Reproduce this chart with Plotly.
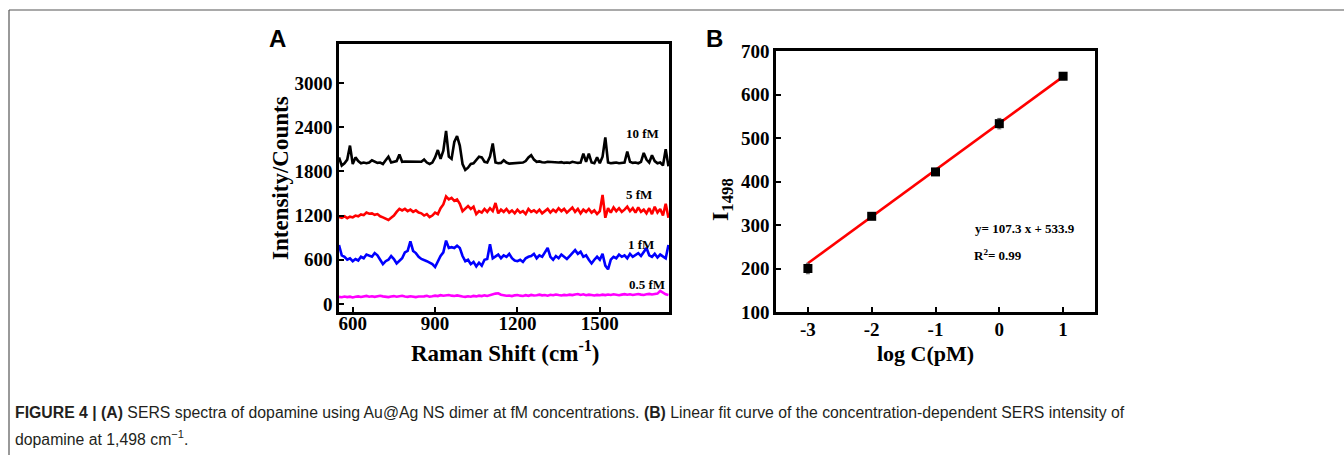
import plotly.graph_objects as go

W, H = 1344, 455

# ---------------- Panel A data ----------------
raman_shift = list(range(550, 1751, 10))

i_10fM = [1990, 1880, 1910, 1960, 2150, 1900, 1990, 1940, 1910, 1920,
          1910, 1920, 1950, 1930, 1915, 1920, 1900, 1950, 2000, 1920,
          1930, 1940, 2030, 1930, 1935, 1935, 1940, 1940, 1930, 1935,
          1930, 1960, 1920, 1900, 1920, 1990, 2090, 1970, 2080, 2350,
          2000, 1970, 2200, 2280, 2150, 1900, 1820, 1850, 1900, 1910,
          1960, 2000, 1990, 1930, 1920, 2000, 2180, 1920, 1910, 1915,
          1950, 1920, 1905, 1910, 1915, 1910, 1915, 1920, 1940, 1990,
          2020, 1960, 1930, 1935, 1925, 1920, 1930, 1925, 1920, 1915,
          1920, 1925, 1915, 1920, 1915, 1930, 1920, 1915, 1920, 2040,
          1930, 2040, 1920, 1910, 1990, 1910, 2000, 2260, 1920, 1910,
          1915, 1920, 1910, 1915, 1920, 2070, 1930, 1915, 1920, 1910,
          1930, 2050, 1960, 1920, 2020, 1940, 1910, 1920, 1880, 2100,
          1870]

i_5fM = [1180, 1170, 1190, 1165, 1185, 1175, 1200, 1190, 1215, 1205,
         1240, 1225, 1230, 1210, 1220, 1190, 1175, 1160, 1140, 1170,
         1200, 1250, 1290, 1270, 1290, 1260, 1280, 1250, 1270, 1240,
         1230, 1200, 1220, 1180, 1200, 1240, 1220, 1300, 1350, 1460,
         1420, 1440, 1400, 1420, 1360, 1260, 1300, 1330, 1290, 1320,
         1220, 1260, 1240, 1290, 1250, 1300, 1260, 1370, 1230, 1280,
         1250, 1290, 1240, 1270, 1230, 1280, 1240, 1260, 1220, 1290,
         1250, 1270, 1240, 1280, 1230, 1260, 1290, 1240, 1280, 1250,
         1300, 1260, 1290, 1240, 1270, 1310, 1250, 1290, 1230, 1280,
         1250, 1290, 1240, 1270, 1220, 1260, 1480, 1170, 1300, 1240,
         1310, 1260, 1300, 1250, 1280, 1320, 1260, 1300, 1240, 1310,
         1250, 1280, 1230, 1300, 1220, 1320, 1240, 1290, 1200, 1360,
         1170]

i_1fM = [800, 660, 640, 600, 620, 580, 610, 590, 640, 620,
         670, 650, 640, 690, 660, 600, 540, 580, 600, 650,
         610, 550, 590, 620, 700, 720, 850, 720, 690, 640,
         610, 600, 580, 560, 540, 500, 580, 650, 700, 860,
         760, 770, 760, 790, 760, 650, 580, 600, 540, 570,
         510, 560, 520, 600, 610, 810, 620, 640, 670, 620,
         660, 640, 680, 620, 590, 580, 600, 570, 620, 640,
         650, 680, 620, 660, 640, 700, 760, 640, 600, 650,
         620, 670, 640, 610, 650, 690, 730, 680, 710, 640,
         660, 600, 550, 600, 640, 600, 680, 520, 470, 600,
         640, 620, 670, 640, 660, 620, 680, 640, 660, 690,
         650, 700, 760, 660, 640, 680, 630, 670, 650, 620,
         800]

i_05fM = [95, 90, 100, 92, 98, 88, 96, 102, 94, 100,
          108, 98, 104, 96, 100, 110, 102, 96, 92, 100,
          106, 98, 104, 110, 100, 96, 104, 98, 92, 100,
          96, 102, 110, 98, 104, 112, 106, 118, 110, 114,
          120, 112, 108, 116, 104, 100, 96, 104, 98, 108,
          102, 112, 106, 116, 108, 120, 130, 140, 145, 125,
          118, 110, 114, 106, 116, 120, 112, 108, 118, 110,
          122, 114, 118, 126, 116, 120, 112, 124, 118, 128,
          120, 114, 122, 118, 126, 120, 128, 134, 122, 130,
          118, 126, 120, 114, 122, 118, 126, 120, 128, 122,
          130, 124, 118, 126, 132, 124, 130, 122, 128, 134,
          126, 122, 130, 136, 128, 134, 140, 178, 150, 130,
          120]

series_names = ["10 fM", "5 fM", "1 fM", "0.5 fM"]
series_colors = ["#000000", "#ff0000", "#0000ff", "#ff00ff"]
series_values = [i_10fM, i_5fM, i_1fM, i_05fM]
label_x = [1654, 1643, 1650, 1672]
label_y = [2321, 1480, 801, 258]

a_xticks = [600, 900, 1200, 1500]
a_yticks = [0, 600, 1200, 1800, 2400, 3000]

# ---------------- Panel B data ----------------
log_c = [-3, -2, -1, 0, 1]
i_1498 = [200, 320, 422, 533, 642]
i_1498_err = [12, 4, 8, 12, 8]
fit_slope = 107.3
fit_intercept = 533.9
fit_x = [-3, 1]
b_xticks = [-3, -2, -1, 0, 1]
b_xticktext = ["-3", "-2", "-1", "0", "1"]
b_yticks = [100, 200, 300, 400, 500, 600, 700]

# ---------------- Figure ----------------
fig = go.Figure()

for name, col, vals in zip(series_names, series_colors, series_values):
    fig.add_trace(go.Scatter(x=raman_shift, y=vals, mode="lines", name=name,
                             line=dict(color=col, width=2.6),
                             xaxis="x", yaxis="y", showlegend=False))

fig.add_trace(go.Scatter(x=fit_x, y=[fit_slope * v + fit_intercept for v in fit_x],
                         mode="lines", line=dict(color="#ff0000", width=2.6),
                         xaxis="x2", yaxis="y2", showlegend=False))
fig.add_trace(go.Scatter(x=log_c, y=i_1498, mode="markers",
                         marker=dict(symbol="square", size=9, color="#000000"),
                         error_y=dict(type="data", array=i_1498_err, color="#555555",
                                      thickness=1, width=2),
                         xaxis="x2", yaxis="y2", showlegend=False))

serif = "Liberation Serif, Times New Roman, serif"
sans = "Liberation Sans, Arial, sans-serif"
tickfont = dict(family=serif, size=19, color="#000000", weight="bold")

axis_common = dict(showline=True, linecolor="#000000", linewidth=2.5, mirror=True,
                   ticks="inside", ticklen=5, tickwidth=2, tickcolor="#000000",
                   showgrid=False, zeroline=False, tickfont=tickfont, automargin=False)

def px_x(p):
    return p / W

def px_y(p):
    return 1 - p / H

fig.update_layout(
    width=W, height=H, margin=dict(l=0, r=0, t=0, b=0, pad=0, autoexpand=False),
    showlegend=False,
    paper_bgcolor="#ffffff", plot_bgcolor="#ffffff",
    xaxis=dict(domain=[px_x(339), px_x(669)], range=[550, 1752],
               tickvals=a_xticks, anchor="y", ticklabelstandoff=-8, **axis_common),
    yaxis=dict(domain=[px_y(312), px_y(44)], range=[-110, 3530],
               tickvals=a_yticks, anchor="x", **axis_common),
    xaxis2=dict(domain=[px_x(776), px_x(1095)], range=[-3.5, 1.5],
                tickvals=b_xticks, ticktext=b_xticktext, anchor="y2",
                ticklabelstandoff=-2, **axis_common),
    yaxis2=dict(domain=[px_y(312), px_y(51)], range=[100, 700],
                tickvals=b_yticks, anchor="x2", **axis_common),
)

ann = []
# series labels
for name, lx, ly in zip(series_names, label_x, label_y):
    ann.append(dict(x=lx, y=ly, xref="x", yref="y", text=name, showarrow=False,
                    xanchor="center", yanchor="middle",
                    font=dict(family=serif, size=13, color="#000000", weight="bold")))

def pann(xp, yp, text, font, xanchor="center", angle=0):
    ann.append(dict(x=px_x(xp), y=px_y(yp), xref="paper", yref="paper", text=text,
                    showarrow=False, xanchor=xanchor, yanchor="middle",
                    textangle=angle, font=font))

# panel letters
pann(277, 38, "<b>A</b>", dict(family=sans, size=24, color="#000000"))
pann(714, 38, "<b>B</b>", dict(family=sans, size=24, color="#000000"))
# axis titles
pann(281, 178, "Intensity/Counts", dict(family=serif, size=23, color="#000000", weight="bold"),
     angle=-90)
pann(505, 351, "Raman Shift (cm<sup>-1</sup>)",
     dict(family=serif, size=23, color="#000000", weight="bold"))
pann(925, 353, "log C(pM)", dict(family=serif, size=22, color="#000000", weight="bold"))
pann(722, 200, "I<sub>1498</sub>", dict(family=serif, size=24, color="#000000", weight="bold"),
     angle=-90)
# fit equation
eq_font = dict(family=serif, size=13, color="#000000", weight="bold")
ann.append(dict(x=-0.42, y=293, xref="x2", yref="y2", xanchor="left", yanchor="middle",
                text=f"y= {fit_slope} x + {fit_intercept}", showarrow=False, font=eq_font))
ann.append(dict(x=-0.42, y=231, xref="x2", yref="y2", xanchor="left", yanchor="middle",
                text="R<sup>2</sup>= 0.99", showarrow=False, font=eq_font))
# caption
cap_font = dict(family=sans, size=15.8, color="#231f20")
pann(13, 412, "<b>FIGURE 4 | (A)</b> SERS spectra of dopamine using Au@Ag NS dimer at fM concentrations. "
              "<b>(B)</b> Linear fit curve of the concentration-dependent SERS intensity of",
     cap_font, xanchor="left")
pann(13, 438, "dopamine at 1,498 cm<sup>\u22121</sup>.", cap_font, xanchor="left")
fig.update_layout(annotations=ann)

# frame lines of the figure page
fig.update_layout(shapes=[
    dict(type="line", xref="paper", yref="paper", x0=px_x(9), x1=1, y0=px_y(10), y1=px_y(10),
         line=dict(color="#555555", width=1.2)),
    dict(type="line", xref="paper", yref="paper", x0=px_x(9), x1=px_x(9), y0=px_y(10), y1=0,
         line=dict(color="#555555", width=1.2)),
])

fig.write_html("out.html")
